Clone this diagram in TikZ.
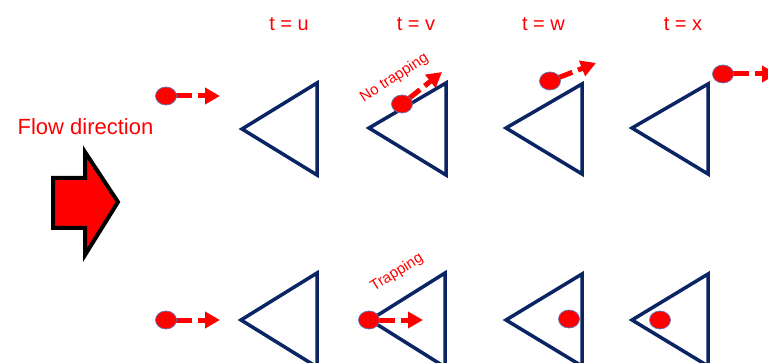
\documentclass[tikz,border=0pt]{standalone}
\usepackage{fontspec}
\setmainfont{Liberation Sans}
\usetikzlibrary{shapes.geometric,arrows.meta}
\pgfdeclarelayer{background}
\pgfsetlayers{background,main}
\definecolor{navy}{RGB}{10,36,100}
\definecolor{ballline}{RGB}{95,115,185}
\definecolor{pred}{RGB}{255,0,0}
\tikzset{
  x=1pt,y=-1pt,
  tri/.style={draw=navy,line width=3.5pt,line join=miter},
  ball/.style={ellipse,fill=pred,draw=ballline,line width=0.7pt,minimum width=21pt,minimum height=18pt,inner sep=0pt},
  motion/.style={draw=pred,line width=5pt,line cap=butt,dash pattern=on 26pt off 6pt on 40pt,-{Triangle[length=15pt,width=16pt]}},
  tlabel/.style={text=pred,font=\fontsize{20}{24}\selectfont,anchor=base},
  slabel/.style={text=pred,font=\fontsize{15}{18}\selectfont,anchor=base,inner sep=0pt},
}
\begin{document}
\begin{tikzpicture}
\clip (0,0) rectangle (768,363);
% time labels
\node[tlabel] (tu) at (289,31) {t = u};
\node[tlabel] (tv) at (416,31) {t = v};
\node[tlabel] (tw) at (543.5,31) {t = w};
\node[tlabel] (tx) at (683,31) {t = x};
% flow direction
\node[text=pred,font=\fontsize{22}{26}\selectfont,anchor=base] (flow) at (85.5,135) {Flow direction};
\draw[line width=4pt,fill=pred,draw=black,line join=miter]
  (53,178) -- (85,178) -- (85,152) -- (118,202) -- (85,255) -- (85,228) -- (53,228) -- cycle;
% triangles top row
\draw[tri] (242,129) -- (317,83) -- (317,175) -- cycle;
\draw[tri] (369,128) -- (446,83) -- (446,175) -- cycle;
\draw[tri] (506,128) -- (582,84) -- (582,174) -- cycle;
\draw[tri] (632,128) -- (708,84) -- (708,174) -- cycle;
% triangles bottom row
\draw[tri] (241,320) -- (317,273) -- (317,367) -- cycle;
\draw[tri] (370,320) -- (445,273) -- (445,367) -- cycle;
\draw[tri] (506,320) -- (582,274) -- (582,366) -- cycle;
\draw[tri] (632,320) -- (708,274) -- (708,366) -- cycle;
% balls top row
\node[ball] (a1) at (166,96) {};
\node[ball] (a2) at (402,104) {};
\node[ball] (a3) at (550,81) {};
\node[ball] (a4) at (723,74) {};
% balls bottom row
\node[ball] (b1) at (166,320) {};
\node[ball] (b2) at (369,320) {};
\node[ball] (b3) at (569,319) {};
\node[ball] (b4) at (660,320) {};
% arrow ends
\coordinate (ea1) at (220,96);
\coordinate (ea2) at (442,72);
\coordinate (ea3) at (596,63);
\coordinate (ea4) at (777,74);
\coordinate (eb1) at (220,320);
\coordinate (eb2) at (423,320);
\begin{pgfonlayer}{background}
\draw[motion] (a1.center) -- (ea1);
\draw[motion,dash pattern=on 23pt off 6pt on 40pt] (a2.center) -- (ea2);
\draw[motion,dash pattern=on 24pt off 6pt on 40pt] (a3.center) -- (ea3);
\draw[motion] (a4.center) -- (ea4);
\draw[motion] (b1.center) -- (eb1);
\draw[motion] (b2.center) -- (eb2);
\end{pgfonlayer}
% slanted labels
\node[slabel,rotate=33] (nt) at (396.5,81.5) {No trapping};
\node[slabel,rotate=32] (tr) at (399,276) {Trapping};
\end{tikzpicture}
\end{document}
